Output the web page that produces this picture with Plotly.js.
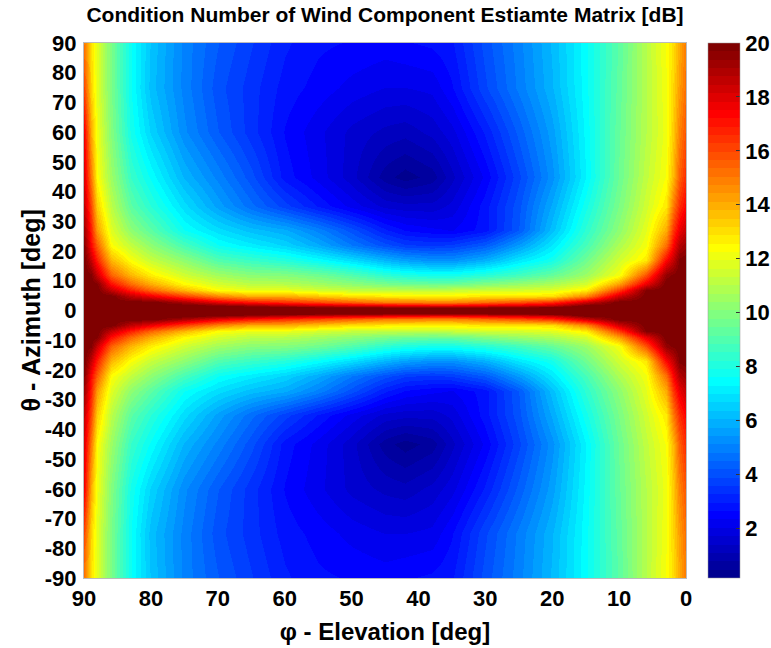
<!DOCTYPE html>
<html>
<head>
<meta charset="utf-8">
<script src="https://cdn.plot.ly/plotly-3.0.1.min.js"></script>
<style>
  html, body { margin: 0; padding: 0; background: #fff; }
  #chart { width: 771px; height: 648px; }
</style>
</head>
<body>
<div id="chart"></div>
<script>
// Elevation (deg) sample positions, ascending
const elevation = [0, 1, 2, 3, 6, 10, 15, 20, 25, 30, 35, 38, 42, 45, 50, 55, 60, 65, 70, 75, 80, 83, 86, 88, 89, 90];

// Azimuth (deg) sample positions
const azimuth = [-90, -75, -60, -45, -35, -27, -22, -17, -12, -9, -7, -5, -3, -2, -1, 0, 1, 2, 3, 5, 7, 9, 12, 17, 22, 27, 35, 45, 60, 75, 90];

// Condition number [dB], one row per azimuth
// (values listed along the elevation array; the picture is mirror-symmetric about azimuth 0)
const az90 = [15, 14, 13, 12.3, 11, 9.2, 7.5, 6.1, 5.0, 4.0, 2.9, 2.7, 2.6, 2.5, 2.6, 2.7, 3.0, 3.6, 4.2, 5.0, 6.3, 7.6, 9.8, 11.8, 13, 15];
const az75 = [15.3, 14.3, 13.2, 12.2, 11, 9.3, 7.5, 6.0, 4.9, 3.8, 2.6, 2.1, 2.0, 2.0, 2.2, 2.5, 2.8, 3.4, 4.0, 5.0, 6.2, 7.6, 9.8, 11.8, 13.2, 16];
const az60 = [15.8, 14.8, 13.4, 12.1, 11, 9.4, 7.4, 5.6, 4.3, 3.0, 1.9, 1.5, 1.2, 1.3, 1.6, 2.1, 2.6, 3.4, 4.2, 5.2, 6.6, 7.8, 10.0, 12.1, 14, 17.5];
const az45 = [16.6, 15.5, 13.8, 12.3, 11.2, 9.5, 7.3, 5.3, 3.8, 2.4, 1.3, 0.6, 0.3, 0.6, 1.5, 2.2, 2.8, 4.0, 5.0, 6.0, 7.5, 8.5, 10.5, 12.4, 15, 18];
const az35 = [17.4, 16.5, 15, 12.8, 11.5, 9.8, 7.8, 5.8, 4.1, 2.8, 1.8, 1.5, 1.5, 1.6, 2.2, 2.9, 3.7, 4.6, 5.6, 6.8, 8.2, 9.2, 11.1, 13.3, 16, 18.5];
const az27 = [18.5, 17.7, 16.3, 14, 11.9, 10.2, 8.3, 6.2, 4.2, 2.8, 2.3, 2.4, 2.6, 3.0, 4.0, 5.0, 5.8, 6.2, 6.8, 7.6, 9.2, 10.2, 11.8, 14.3, 16.8, 19.2];
const az22 = [19.3, 18.8, 17.3, 15.2, 12.2, 10.8, 8.8, 7.0, 5.5, 4.2, 3.6, 3.5, 3.6, 4.0, 4.8, 5.8, 6.6, 7.1, 7.6, 8.8, 10.2, 11.2, 12.4, 15.5, 17.3, 19.7];
const az17 = [20, 19.8, 18.5, 17.3, 12.8, 11.5, 9.6, 7.8, 7.0, 5.9, 5.3, 5.3, 5.6, 6.0, 6.8, 7.5, 8.1, 8.5, 9.0, 10.2, 11.3, 12.3, 13.8, 16.8, 18.5, 20];
const az12 = [20, 20, 19.8, 19.5, 15.8, 12.2, 10.5, 9.4, 8.7, 8.2, 7.8, 7.8, 8.0, 8.3, 9.0, 9.6, 10, 10.1, 10.6, 11.5, 12.7, 13.8, 15.5, 18.4, 19.8, 20];
const az9  = [20, 20, 20, 20, 17.8, 14.3, 11.6, 10.8, 10.4, 10.0, 9.5, 9.5, 9.6, 9.8, 10.2, 10.6, 11, 11.1, 11.6, 12.5, 14, 15.3, 17.2, 19.8, 20, 20];
const az7  = [20, 20, 20, 20, 19.8, 16.2, 12.7, 11.8, 11.6, 11.5, 11.3, 11.2, 11.2, 11.2, 11.3, 11.6, 12.0, 12.0, 12.4, 13.8, 15.4, 16.8, 18.5, 20, 20, 20];
const az5  = [20, 20, 20, 20, 20, 18.3, 14.8, 13, 12.9, 12.9, 12.7, 12.6, 12.7, 12.8, 13, 13.5, 14, 14, 14.8, 16.2, 17.7, 18.6, 20, 20, 20, 20];
const az3  = [20, 20, 20, 20, 20, 20, 18.3, 16.5, 15.8, 15.3, 14.8, 14.8, 15, 15, 15.5, 16, 16.5, 17, 17.8, 19, 20, 20, 20, 20, 20, 20];
const az2  = [20, 20, 20, 20, 20, 20, 19.8, 18.2, 17.8, 17.5, 17.2, 17.2, 17.3, 17.5, 17.8, 18, 18.5, 19, 19.5, 20, 20, 20, 20, 20, 20, 20];
const az1  = [21, 21, 21, 21, 21, 21, 21, 20.6, 20.4, 20.3, 20.3, 20.3, 20.3, 20.3, 20.4, 20.5, 20.6, 20.8, 21, 21, 21, 21, 21, 21, 21, 21];
const az0  = [25, 25, 25, 25, 25, 25, 25, 25, 25, 25, 25, 25, 25, 25, 25, 25, 25, 25, 25, 25, 25, 25, 25, 25, 25, 25];

const zRows = [az90, az75, az60, az45, az35, az27, az22, az17, az12, az9, az7, az5, az3, az2, az1,
               az0,
               az1, az2, az3, az5, az7, az9, az12, az17, az22, az27, az35, az45, az60, az75, az90];

const colorbarTicks = [2, 4, 6, 8, 10, 12, 14, 16, 18, 20];
const xTicks = [90, 80, 70, 60, 50, 40, 30, 20, 10, 0];
const yTicks = [-90, -80, -70, -60, -50, -40, -30, -20, -10, 0, 10, 20, 30, 40, 50, 60, 70, 80, 90];

// MATLAB jet(64) as a stepped colorscale (style only)
function jet64() {
  const m = 64, n = 16;
  const u = [];
  for (let i = 1; i <= n; i++) u.push(i / n);
  for (let i = 0; i < n - 1; i++) u.push(1);
  for (let i = n; i >= 1; i--) u.push(i / n);
  const J = [];
  for (let i = 0; i < m; i++) J.push([0, 0, 0]);
  const g = [], r = [], b = [];
  for (let k = 1; k <= u.length; k++) {
    const gi = Math.ceil(n / 2) + k;
    g.push(gi); r.push(gi + n); b.push(gi - n);
  }
  const gg = g.filter(v => v <= m), rr = r.filter(v => v <= m), bb = b.filter(v => v >= 1);
  rr.forEach((idx, k) => { J[idx - 1][0] = u[k]; });
  gg.forEach((idx, k) => { J[idx - 1][1] = u[k]; });
  bb.forEach((idx, k) => { J[idx - 1][2] = u[u.length - bb.length + k]; });
  const cs = [];
  for (let i = 0; i < m; i++) {
    const c = 'rgb(' + J[i].map(v => Math.round(v * 255)).join(',') + ')';
    cs.push([i / m, c]);
    cs.push([(i + 1) / m, c]);
  }
  return cs;
}

const FONT = 'Liberation Sans, Arial, Helvetica, sans-serif';

const trace = {
  type: 'heatmap',
  x: elevation,
  y: azimuth,
  z: zRows,
  zmin: 0.15,
  zmax: 20,
  zsmooth: 'best',
  colorscale: jet64(),
  hoverinfo: 'skip',
  colorbar: {
    x: 1.0365,
    xanchor: 'left',
    xpad: 0,
    y: 0.5,
    yanchor: 'middle',
    len: 1,
    lenmode: 'fraction',
    ypad: 0,
    thickness: 32,
    thicknessmode: 'pixels',
    outlinewidth: 0.5,
    outlinecolor: '#999',
    tickvals: colorbarTicks,
    ticktext: colorbarTicks.map(String),
    ticks: 'inside',
    ticklen: 4,
    tickcolor: '#333',
    tickfont: { family: FONT, size: 22, color: '#000', weight: 'bold' }
  }
};

const layout = {
  width: 771,
  height: 648,
  margin: { l: 84, r: 85, t: 43, b: 70, pad: 0, autoexpand: false },
  paper_bgcolor: '#fff',
  plot_bgcolor: '#fff',
  title: {
    text: 'Condition Number of Wind Component Estiamte Matrix [dB]',
    font: { family: FONT, size: 21, color: '#000', weight: 'bold' },
    x: 0.5, xanchor: 'center', xref: 'paper',
    y: 0.977, yanchor: 'middle', yref: 'container'
  },
  xaxis: {
    range: [90, 0],
    tickvals: xTicks,
    ticktext: xTicks.map(String),
    ticks: '',
    showgrid: false,
    zeroline: false,
    showline: true,
    linecolor: '#bbb',
    linewidth: 1,
    mirror: true,
    automargin: false,
    ticklabelstandoff: 1,
    tickfont: { family: FONT, size: 22, color: '#000', weight: 'bold' },
    title: {
      text: 'φ - Elevation [deg]',
      font: { family: FONT, size: 24, color: '#000', weight: 'bold' },
      standoff: 12
    }
  },
  yaxis: {
    range: [-90, 90],
    tickvals: yTicks,
    ticktext: yTicks.map(String),
    ticks: '',
    showgrid: false,
    zeroline: false,
    showline: true,
    linecolor: '#bbb',
    linewidth: 1,
    mirror: true,
    automargin: false,
    ticklabelstandoff: 2,
    tickfont: { family: FONT, size: 22, color: '#000', weight: 'bold' },
    title: { text: '' }
  },
  annotations: [{
    text: 'θ - Azimuth [deg]',
    xref: 'paper', yref: 'paper',
    x: -0.0897, y: 0.5,
    xanchor: 'center', yanchor: 'middle',
    textangle: -90,
    showarrow: false,
    font: { family: FONT, size: 25, color: '#000', weight: 'bold' }
  }]
};

Plotly.newPlot('chart', [trace], layout, { displayModeBar: false, staticPlot: true });
</script>
</body>
</html>
